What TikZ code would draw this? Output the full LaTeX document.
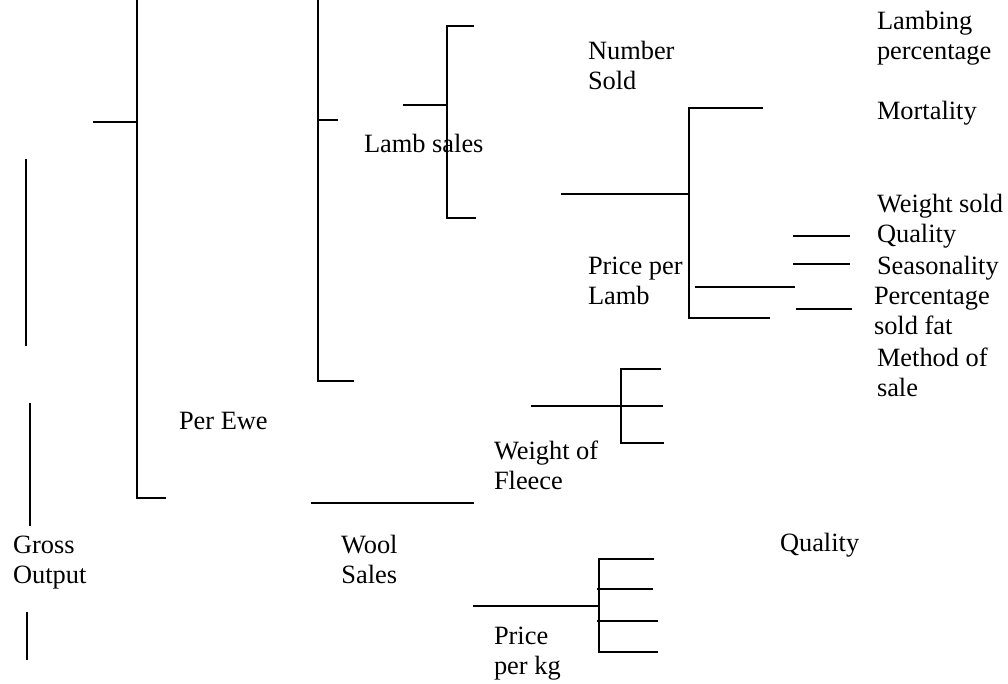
\documentclass[tikz,border=0pt]{standalone}
\usepackage{fontspec}
\setmainfont{Liberation Serif}
\usepackage{tikz}

\begin{document}
\begin{tikzpicture}[x=0.5pt,y=-0.5pt,line width=1pt,
	every node/.style={inner sep=0pt,anchor=base west,align=left,font=\fontsize{13.2}{15}\selectfont}]
			\useasboundingbox (0,0) rectangle (1008,684);
			% broken line beside Gross Output
			\coordinate (g1) at (25.5,159);
			\coordinate (g2) at (25.5,346);
			\coordinate (g3) at (30,403);
			\coordinate (g4) at (30,526);
			\coordinate (g5) at (27,612);
			\coordinate (g6) at (27,660);
			% per ewe
			\coordinate (e0) at (93,122);
			\coordinate (e1) at (137,0);
			\coordinate (e2) at (137,122);
			\coordinate (e3) at (137,498);
			\coordinate (e4) at (166,498);
			\coordinate (s1) at (318,0);
			\coordinate (s2) at (318,120);
			\coordinate (s3) at (338,120);
			\coordinate (s4) at (318,381);
			\coordinate (s5) at (354,381);
			% lamb sales
			\coordinate (l0) at (403,105);
			\coordinate (l1) at (474,26);
			\coordinate (l2) at (447,26);
			\coordinate (l3) at (447,105);
			\coordinate (l4) at (447,218);
			\coordinate (l5) at (476,218);
			% number sold / price per lamb
			\coordinate (n0) at (561,194);
			\coordinate (n1) at (689,194);
			\coordinate (n2) at (763,108);
			\coordinate (n3) at (689,108);
			\coordinate (n4) at (689,318);
			\coordinate (n5) at (770,318);
			\coordinate (n6) at (695,287);
			\coordinate (n7) at (795,287);
			\coordinate (q1) at (793,236);
			\coordinate (q2) at (850,236);
			\coordinate (q3) at (793,264);
			\coordinate (q4) at (850,264);
			\coordinate (q5) at (796,309);
			\coordinate (q6) at (852,309);
			% wool sales
			\coordinate (w0) at (311,503);
			\coordinate (w1) at (474,503);
			\coordinate (f0) at (531,406);
			\coordinate (f1) at (621,406);
			\coordinate (f2) at (663,406);
			\coordinate (f3) at (661,369);
			\coordinate (f4) at (621,369);
			\coordinate (f5) at (621,443);
			\coordinate (f6) at (664,443);
			\coordinate (k0) at (473,606);
			\coordinate (k1) at (599,606);
			\coordinate (k2) at (654,559);
			\coordinate (k3) at (599,559);
			\coordinate (k4) at (599,652);
			\coordinate (k5) at (658,652);
			\coordinate (k6) at (597,589);
			\coordinate (k7) at (653,589);
			\coordinate (k8) at (597,621);
			\coordinate (k9) at (658,621);
			
			\draw[] (g1) -- (g2);
			\draw[] (g3) -- (g4);
			\draw[] (g5) -- (g6);
			\draw[] (e0) -- (e2);
			\draw[] (e1) -- (e3) -- (e4);
			\draw[] (s1) -- (s4) -- (s5);
			\draw[] (s2) -- (s3);
			\draw[] (l1) -- (l2) -- (l4) -- (l5);
			\draw[] (l0) -- (l3);
			\draw[] (n0) -- (n1);
			\draw[] (n2) -- (n3) -- (n4) -- (n5);
			\draw[] (n6) -- (n7);
			\draw[] (q1) -- (q2);
			\draw[] (q3) -- (q4);
			\draw[] (q5) -- (q6);
			\draw[] (w0) -- (w1);
			\draw[] (f0) -- (f2);
			\draw[] (f3) -- (f4) -- (f5) -- (f6);
			\draw[] (k0) -- (k1);
			\draw[] (k2) -- (k3) -- (k4) -- (k5);
			\draw[] (k6) -- (k7);
			\draw[] (k8) -- (k9);
			
			% two-line labels sit on the baseline of their last line
			\node (gross) at (12,583) {Gross\\Output};
			\node (perewe) at (178,430) {Per Ewe};
			\node (lambsales) at (363,153) {Lamb sales};
			\node (wool) at (340,583) [align=center] {Wool\\Sales};
			\node (numsold) at (587,90) {Number\\Sold};
			\node (pricelamb) at (587,305) {Price per\\Lamb};
			\node (fleece) at (493,490) {Weight of\\Fleece};
			\node (pricekg) at (493,675) {Price\\per kg};
			\node (lambing) at (876,60) {Lambing\\percentage};
			\node (mortality) at (876,120) {Mortality};
			\node (weightsold) at (876,213) {Weight sold};
			\node (qualitya) at (876,243) {Quality};
			\node (season) at (876,275) {Seasonality};
			\node (pctfat) at (873,335) {Percentage\\sold fat};
			\node (method) at (876,397) {Method of\\sale};
			\node (qualityb) at (779,552) {Quality};
		\end{tikzpicture}
\end{document}
